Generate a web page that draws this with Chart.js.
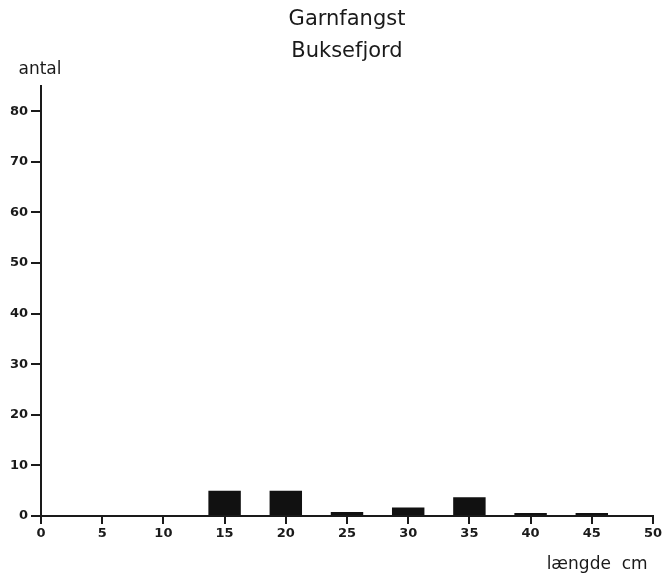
<!DOCTYPE html>
<html>
<head>
<meta charset="utf-8">
<script src="https://cdn.jsdelivr.net/npm/chart.js@4/dist/chart.umd.min.js"></script>
<style>
  html, body { margin: 0; padding: 0; background: #fff; }
  #wrap { width: 665px; height: 577px; }
</style>
</head>
<body>
<div id="wrap"><canvas id="c" width="665" height="577"></canvas></div>
<script>
const titleLines = ['Garnfangst', 'Buksefjord'];
const yAxisLabel = 'antal';
const xAxisLabel = 'længde  cm ';
const lengths = [15, 20, 25, 30, 35, 40, 45];
const counts = [5, 5, 0.8, 1.7, 3.7, 0.6, 0.6];
const xTicks = [0, 5, 10, 15, 20, 25, 30, 35, 40, 45, 50];
const yTicks = [0, 10, 20, 30, 40, 50, 60, 70, 80];

const ink = '#1a1a1a';

const labelPlugin = {
  id: 'labels',
  afterDraw(chart) {
    const ctx = chart.ctx;
    const area = chart.chartArea;
    ctx.save();
    ctx.fillStyle = ink;
    ctx.textAlign = 'center';
    ctx.textBaseline = 'middle';
    ctx.font = '21px "DejaVu Sans"';
    const cx = (area.left + area.right) / 2;
    titleLines.forEach((t, i) => ctx.fillText(t, cx, area.top - 66 + i * 32));
    ctx.font = '17px "DejaVu Sans"';
    ctx.fillText(yAxisLabel, area.left - 1, area.top - 16);
    ctx.restore();
  }
};

new Chart(document.getElementById('c'), {
  type: 'bar',
  data: {
    datasets: [{
      data: lengths.map((x, i) => ({ x: x, y: counts[i] })),
      backgroundColor: '#111',
      borderWidth: 0,
      categoryPercentage: 0.53,
      barPercentage: 1
    }]
  },
  options: {
    responsive: false,
    animation: false,
    layout: { padding: { left: 0, right: 12, top: 86, bottom: 0 } },
    plugins: {
      legend: { display: false },
      tooltip: { enabled: false },
      title: { display: false }
    },
    scales: {
      x: {
        type: 'linear',
        min: 0,
        max: 50,
        offset: false,
        afterBuildTicks: (s) => { s.ticks = xTicks.map(v => ({ value: v })); },
        afterFit: (s) => { s.height = 61; },
        ticks: {
          color: ink,
          font: { family: '"DejaVu Sans"', size: 13, weight: 'bold' },
          padding: 2,
          maxRotation: 0,
          autoSkip: false
        },
        grid: { drawOnChartArea: false, drawTicks: true, tickLength: 8, color: ink, lineWidth: 2, offset: false },
        border: { display: true, color: ink, width: 2 },
        title: {
          display: true,
          text: xAxisLabel,
          align: 'end',
          color: ink,
          font: { family: '"DejaVu Sans"', size: 17, weight: 'normal', lineHeight: 1.2 },
          padding: { top: 4, bottom: 2 }
        }
      },
      y: {
        type: 'linear',
        min: 0,
        max: 85,
        afterBuildTicks: (s) => { s.ticks = yTicks.map(v => ({ value: v })); },
        afterFit: (s) => { s.width = 41; },
        ticks: {
          color: ink,
          font: { family: '"DejaVu Sans"', size: 13, weight: 'bold' },
          padding: 3
        },
        grid: { drawOnChartArea: false, drawTicks: true, tickLength: 10, color: ink, lineWidth: 2 },
        border: { display: true, color: ink, width: 2 }
      }
    }
  },
  plugins: [labelPlugin]
});
</script>
</body>
</html>
